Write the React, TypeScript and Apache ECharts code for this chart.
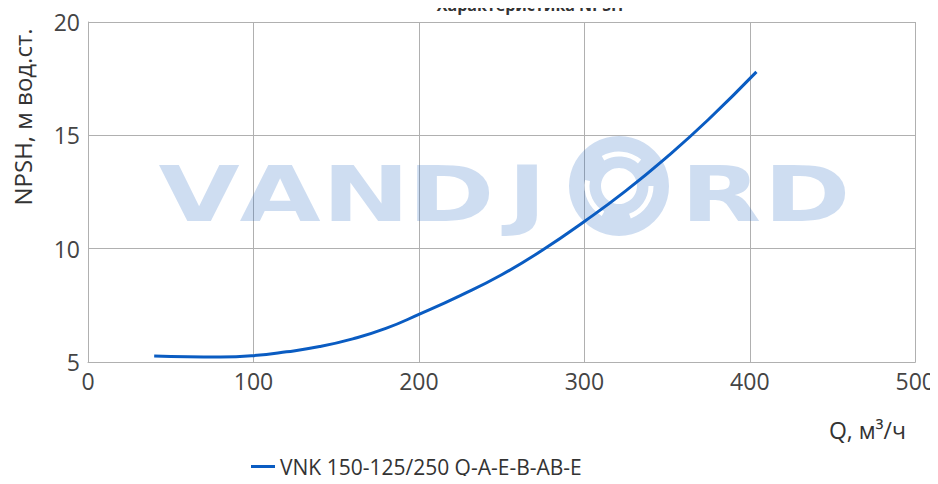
import React, { useEffect, useRef } from "react";
import * as echarts from "echarts";

const flowQ = [40, 60, 80, 100, 120, 140, 160, 180, 200, 225, 250, 275, 300, 325, 350, 375, 404];
const npsh = [5.26, 5.23, 5.22, 5.28, 5.45, 5.68, 6.02, 6.48, 7.1, 7.93, 8.85, 9.95, 11.2, 12.55, 14.05, 15.7, 17.8];
const seriesName = "VNK 150-125/250 Q-A-E-B-AB-E";
const titleText = "Характеристика NPSH";
const yName = "NPSH, м вод.ст.";
const xName = "Q, м³/ч";
const watermarkLetters = ["V", "A", "N", "D", "J", "R", "D"];
const watermarkCenters = [199, 280, 366, 451, 527, 721, 807];

const FONT = "'Open Sans', 'Noto Sans', sans-serif";
const WM = "rgba(30,100,190,0.22)";

export default function App() {
  const ref = useRef<HTMLDivElement>(null);
  useEffect(() => {
    if (!ref.current) return;
    const chart = echarts.init(ref.current, null, { renderer: "svg" });
    const data = flowQ.map((q, i) => [q, npsh[i]]);
    const letters = watermarkLetters.map((ch, i) => ({
      type: "text",
      x: watermarkCenters[i],
      y: 195,
      scaleX: 1.38,
      z: 1,
      style: {
        text: ch,
        fill: WM,
        font: "bold 76px 'DejaVu Sans'",
        align: "center",
        verticalAlign: "middle",
      },
    }));
    const swirl = [0, 120, 240].map((a) => ({
      type: "arc",
      z: 1,
      shape: {
        cx: 619,
        cy: 186,
        r: 32,
        startAngle: (a * Math.PI) / 180,
        endAngle: ((a + 70) * Math.PI) / 180,
      },
      style: { stroke: "#fff", lineWidth: 5, fill: "none" },
    }));
    chart.setOption({
      animation: false,
      backgroundColor: "#fff",
      grid: { left: 88, right: 21, top: 22, bottom: 122, containLabel: false },
      xAxis: {
        type: "value",
        min: 0,
        max: 500,
        interval: 100,
        axisLine: { show: true, lineStyle: { color: "#b0b0b0", width: 1 } },
        axisTick: { show: false },
        axisLabel: { color: "#444", fontSize: 23, fontFamily: FONT, margin: 7 },
        splitLine: { show: true, lineStyle: { color: "#b0b0b0", width: 1 } },
      },
      yAxis: {
        type: "value",
        min: 5,
        max: 20,
        interval: 5,
        axisLine: { show: true, lineStyle: { color: "#b0b0b0", width: 1 } },
        axisTick: { show: false },
        axisLabel: { color: "#444", fontSize: 23, fontFamily: FONT, margin: 8 },
        splitLine: { show: true, lineStyle: { color: "#b0b0b0", width: 1 } },
      },
      legend: {
        left: 251,
        top: 456,
        padding: 0,
        icon: "rect",
        itemWidth: 24,
        itemHeight: 3,
        itemGap: 10,
        textStyle: {
          color: "#333",
          fontSize: 21,
          fontFamily: FONT,
          padding: [0, 0, 12, 0],
        },
        data: [seriesName],
      },
      graphic: [
        ...letters,
        {
          type: "ring",
          z: 1,
          shape: { cx: 619, cy: 186, r: 50, r0: 18 },
          style: { fill: WM },
        },
        ...swirl,
        {
          type: "text",
          x: 530,
          y: 5,
          style: {
            text: titleText,
            fill: "#333",
            font: `bold 16px ${FONT}`,
            align: "center",
            verticalAlign: "middle",
          },
        },
        {
          type: "text",
          x: 22,
          y: 117,
          rotation: Math.PI / 2,
          style: {
            text: yName,
            fill: "#333",
            font: `24px ${FONT}`,
            align: "center",
            verticalAlign: "middle",
          },
        },
        {
          type: "text",
          x: 906,
          y: 430,
          style: {
            text: xName,
            fill: "#333",
            font: `23px ${FONT}`,
            align: "right",
            verticalAlign: "middle",
          },
        },
      ],
      series: [
        {
          type: "line",
          name: seriesName,
          data,
          smooth: true,
          showSymbol: false,
          symbol: "none",
          z: 3,
          lineStyle: { color: "#0a5cc2", width: 3 },
          itemStyle: { color: "#0a5cc2" },
        },
      ],
    });
    return () => chart.dispose();
  }, []);
  return <div ref={ref} style={{ width: 938, height: 484, margin: -8 }} />;
}
